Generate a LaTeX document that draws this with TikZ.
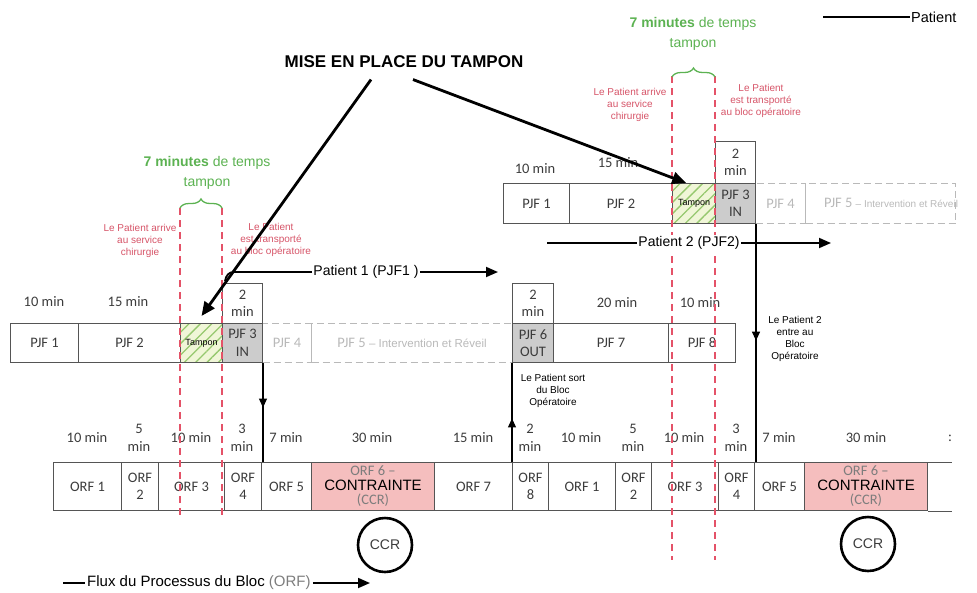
\documentclass[tikz,border=0pt]{standalone}
\usepackage{fontspec}
\setmainfont{Carlito}
\newfontfamily\arialf{Liberation Sans}
\usepackage{tikz}
\usetikzlibrary{arrows.meta, calc, patterns.meta, decorations.pathreplacing, decorations.markings}
\usepackage{xcolor}
\definecolor{boxline}{RGB}{85,85,85}
\definecolor{darktxt}{RGB}{60,60,60}
\definecolor{ghostgray}{RGB}{185,185,185}
\definecolor{boxgray}{RGB}{204,204,204}
\definecolor{ccrpink}{RGB}{245,190,190}
\definecolor{bufred}{RGB}{228,82,104}
\definecolor{notered}{RGB}{214,84,104}
\definecolor{bufgreen}{RGB}{92,178,82}
\definecolor{tampbg}{RGB}{240,246,215}
\definecolor{tampline}{RGB}{150,200,110}
\definecolor{orfgray}{RGB}{125,125,125}
\newcommand\calsz{\fontsize{14.5}{17.5}\selectfont}
\newcommand\notesz{\arialf\fontsize{10}{12}\selectfont}
\tikzset{
  bx/.style={draw=boxline, line width=1pt, inner sep=0pt, anchor=north west, align=center, font=\calsz, text=darktxt},
  pjf/.style={bx, minimum height=39pt},
  orf/.style={bx, minimum height=48pt},
  ghost/.style={draw=ghostgray, dash pattern=on 7pt off 4pt, text=ghostgray},
  gate/.style={fill=boxgray},
  tampon/.style={preaction={fill=tampbg}, pattern={Lines[angle=45,distance=8pt,line width=1.3pt]}, pattern color=tampline, font=\arialf\fontsize{9}{10}\selectfont, text=black},
  dur/.style={font=\calsz, text=darktxt, align=center, inner sep=0pt},
  rednote/.style={font=\notesz, text=notered, align=center},
  blknote/.style={font=\notesz, align=center},
  bufline/.style={bufred, line width=1.3pt, dash pattern=on 7pt off 5pt},
  bufbrace/.style={bufgreen, line width=1.3pt, decorate, decoration={brace, amplitude=9pt}},
  buftxt/.style={font=\arialf\fontsize{14}{19.5}\selectfont, text=bufgreen, align=center},
  ptxt/.style={font=\arialf\fontsize{14}{14}\selectfont, fill=white, inner sep=1pt},
  pline/.style={line width=1.8pt},
  parrow/.style={pline, -{Triangle[length=12pt,width=10pt]}},
  bigarrow/.style={line width=2.8pt, -{Triangle[length=14pt,width=12pt]}},
  midarrow/.style={line width=1.2pt, postaction={decorate}, decoration={markings, mark=at position #1 with {\arrow{Triangle[length=9pt,width=8pt]}}}},
  ccr/.style={circle, draw=black, line width=2.6pt, minimum size=54pt, inner sep=0pt, font=\arialf\fontsize{14}{14}\selectfont, text=darktxt}
}

\begin{document}
\begin{tikzpicture}[x=1pt, y=-1pt]
  \useasboundingbox (0,0) rectangle (977,592);

  % 图例
  \node[font=\arialf\fontsize{14.5}{15}\selectfont, anchor=west, inner sep=1pt] (leg) at (910,17) {Patient};
  \draw[pline] (823,17) -- (leg.west);

  % 患者 2 的 PJF 行
  \node[pjf, ghost, minimum width=50pt, minimum height=40pt] (q1d) at (755,183) {PJF 4};
  \node[pjf, ghost, minimum width=150pt, minimum height=40pt] (q1e) at (805,183) {};
  \node[text=ghostgray, font=\calsz] (q1et) at (891,203) {PJF 5 {\arialf\fontsize{10}{12}\selectfont – Intervention et Réveil}};
  \node[pjf, minimum width=66pt, minimum height=40pt] (q1a) at (503,183) {PJF 1};
  \node[pjf, minimum width=103pt, minimum height=40pt] (q1b) at (569,183) {PJF 2};
  \node[pjf, tampon, minimum width=43pt, minimum height=40pt] (q1t) at (672,183) {Tampon};
  \node[pjf, gate, minimum width=40pt, minimum height=40pt] (q1c) at (715,183) {PJF 3\\IN};
  \node[bx, minimum width=40pt, minimum height=42pt] (q1cd) at (715,141) {2\\min};
  \node[dur] (q1ta) at (535,169) {10 min};
  \node[dur] (q1tb) at (618,163) {15 min};

  % 患者 1 的 PJF 行
  \node[pjf, ghost, minimum width=49pt] (p1d) at (262,323) {PJF 4};
  \node[pjf, ghost, minimum width=201pt] (p1e) at (311,323) {PJF 5 {\arialf\fontsize{11.5}{12}\selectfont – Intervention et Réveil}};
  \node[pjf, minimum width=68pt] (p1a) at (10,323) {PJF 1};
  \node[pjf, minimum width=102pt] (p1b) at (78,323) {PJF 2};
  \node[pjf, tampon, minimum width=42pt] (p1t) at (180,323) {Tampon};
  \node[pjf, gate, minimum width=40pt] (p1c) at (222,323) {PJF 3\\IN};
  \node[bx, minimum width=40pt, minimum height=40pt] (p1cd) at (222,283) {2\\min};
  \node[pjf, gate, minimum width=41pt] (p1f) at (512,323) {PJF 6\\OUT};
  \node[bx, minimum width=41pt, minimum height=40pt] (p1fd) at (512,283) {2\\min};
  \node[pjf, minimum width=115pt] (p1g) at (553,323) {PJF 7};
  \node[pjf, minimum width=67pt] (p1h) at (668,323) {PJF 8};
  \node[dur] (p1ta) at (44,302) {10 min};
  \node[dur] (p1tb) at (128,302) {15 min};
  \node[dur] (p1tg) at (617,303) {20 min};
  \node[dur] (p1th) at (700,303) {10 min};

  % ORF 流程行
  \foreach \x/\w/\t/\n in {53/68/ORF 1/o1, 121/37/ORF\\2/o2, 158/66/ORF 3/o3, 224/37/ORF\\4/o4, 261/50/ORF 5/o5, 434/78/ORF 7/o7, 512/36/ORF\\8/o8, 548/67/ORF 1/o9, 615/36/ORF\\2/o10, 651/67/ORF 3/o11, 718/36/ORF\\4/o12, 754/50/ORF 5/o13}
    \node[orf, minimum width=\w pt] (\n) at (\x,462) {\t};
  \node[orf, fill=ccrpink, minimum width=123pt] (o6) at (311,462) {{\color{orfgray}ORF 6 –}\\[-3pt]{\arialf\fontsize{15}{15}\selectfont\color{black}CONTRAINTE}\\[-3pt]{\color{orfgray}(CCR)}};
  \node[orf, fill=ccrpink, minimum width=123pt] (o14) at (804,462) {{\color{orfgray}ORF 6 –}\\[-3pt]{\arialf\fontsize{15}{15}\selectfont\color{black}CONTRAINTE}\\[-3pt]{\color{orfgray}(CCR)}};
  \draw[boxline, line width=1pt] (o14.north east) -- ++(24,0);
  \draw[boxline, line width=1pt] (o14.south east) -- ++(24,0);
  \foreach \x/\t [count=\i] in {87/10 min, 139/5\\min, 191/10 min, 242/3\\min, 286/7 min, 372/30 min, 473/15 min, 530/2\\min, 581/10 min, 633/5\\min, 684/10 min, 736/3\\min, 779/7 min, 866/30 min, 950/:}
    \node[dur] (od\i) at (\x,438) {\t};

  % CCR
  \node[ccr] (ccr1) at (385,545) {CCR};
  \node[ccr] (ccr2) at (868,544) {CCR};

  % 缓冲时间（红色虚线 + 绿色括号）
  \draw[bufline] (180,208) -- (180,516);
  \draw[bufline] (222,208) -- (222,516);
  \draw[bufline] (672,76) -- (672,560);
  \draw[bufline] (715,76) -- (715,560);
  \draw[bufbrace] (180,208) -- (222,208);
  \draw[bufbrace] (672,77) -- (715,77);
  \node[buftxt] (g1) at (207,173) {\textbf{7 minutes} de temps\\tampon};
  \node[buftxt] (g2) at (693,34) {\textbf{7 minutes} de temps\\tampon};
  \node[rednote] (r1a) at (140,241) {Le Patient arrive\\au service\\chirurgie};
  \node[rednote] (r1b) at (271,240) {Le Patient\\est transporté\\au bloc opératoire};
  \node[rednote] (r2a) at (630,105) {Le Patient arrive\\au service\\chirurgie};
  \node[rednote] (r2b) at (761,101) {Le Patient\\est transporté\\au bloc opératoire};

  % 患者流向
  \coordinate (pa0) at (234,272);
  \coordinate (pa1) at (498,272);
  \draw[pline] (225,281) .. controls (226,275) and (229,272) .. (pa0);
  \draw[parrow] (pa0) -- node[ptxt] (pat1) {Patient 1 (PJF1 )} (pa1);
  \coordinate (pb0) at (547,243);
  \coordinate (pb1) at (831,243);
  \draw[parrow] (pb0) -- node[ptxt] (pat2) {Patient 2 (PJF2)} (pb1);
  \draw[midarrow=0.45] (p1c.south east) -- (p1c.south east |- o5.north);
  \draw[midarrow=0.44] (o8.north west) -- (o8.north west |- p1f.south);
  \draw[midarrow=0.49] (q1c.south east) -- (q1c.south east |- o13.north);
  \node[blknote] (n1) at (553,391) {Le Patient sort\\du Bloc\\Opératoire};
  \node[blknote] (n2) at (795,339) {Le Patient 2\\entre au\\Bloc\\Opératoire};

  % 标题与指向缓冲区的箭头
  \node[font=\arialf\bfseries\fontsize{17}{17}\selectfont] (mise) at (404,62) {MISE EN PLACE DU TAMPON};
  \draw[bigarrow] ([shift={(-33pt,-8pt)}]mise.south) -- ([yshift=7pt]p1t.north);
  \draw[bigarrow] ([shift={(9pt,-8pt)}]mise.south) -- ([xshift=-8pt]q1t.north);

  % 流程图例
  \node[font=\arialf\fontsize{15}{15}\selectfont, anchor=west, inner sep=2pt] (flux) at (85,583) {Flux du Processus du Bloc {\color{orfgray}(ORF)}};
  \draw[pline] (63,583) -- (flux.west);
  \draw[parrow] (flux.east) -- (370,583);
\end{tikzpicture}
\end{document}
